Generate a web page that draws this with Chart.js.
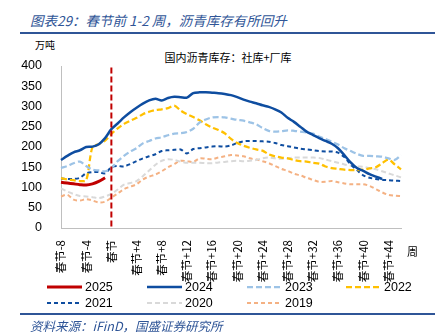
<!DOCTYPE html>
<html lang="zh-CN">
<head>
<meta charset="utf-8">
<script src="https://cdn.jsdelivr.net/npm/chart.js@4.4.1/dist/chart.umd.min.js"></script>
<style>
  html, body { margin: 0; padding: 0; background: #fff; }
  body { width: 443px; height: 336px; position: relative; overflow: hidden;
         font-family: "Liberation Sans", "Noto Sans CJK SC", sans-serif; color: #000; }
  .abs { position: absolute; white-space: nowrap; }
  #title { left: 30px; top: 10px; font: italic 13.5px "Noto Sans CJK SC"; color: #2F5597; }
  .rule { left: 20px; width: 415px; height: 2px; background: #2F5597; }
  #unit { left: 35px; top: 37px; font: 10px "Noto Sans CJK SC"; }
  #ctitle { left: 228px; top: 49px; transform: translateX(-50%); font: 11px "Noto Sans CJK SC"; }
  #wrap { left: 0; top: 40px; width: 443px; height: 244px; }
  #zhou { left: 407px; top: 243px; font: 11px "Noto Sans CJK SC"; }
  #legend { left: 0; top: 279px; width: 443px; height: 32px; }
  .item { position: absolute; display: flex; align-items: center; height: 16px; font-size: 12.5px; }
  .item span { margin-left: 3px; }
  #source { left: 30px; top: 316px; font: italic 12.5px "Noto Sans CJK SC"; color: #2F5597; }
</style>
</head>
<body>
<div class="abs" id="title">图表29：春节前 1-2 周，沥青库存有所回升</div>
<div class="abs rule" style="top:32px"></div>
<div class="abs" id="unit">万吨</div>
<div class="abs" id="ctitle">国内沥青库存：社库+厂库</div>
<div class="abs" id="wrap"><canvas id="stockChart"></canvas></div>
<div class="abs" id="zhou">周</div>
<div class="abs" id="legend"></div>
<div class="abs rule" style="top:313px"></div>
<div class="abs" id="source">资料来源：iFinD，国盛证券研究所</div>

<script>
// weeks relative to Spring Festival, -8 .. +46
const weeks = [];
for (let w = -8; w <= 46; w++) weeks.push(w);

const tickLabels = ['春节-8','春节-4','春节','春节+4','春节+8','春节+12','春节+16',
                    '春节+20','春节+24','春节+28','春节+32','春节+36','春节+40','春节+44'];

// 社库+厂库, 万吨 (null = no data yet)
const y2025 = [113,111,109,107,106,109,115,124];
const y2024 = [168,178,187,192,200,201,207,222,244,258,273,286,297,307,315,319,315,321,
               324,323,322,333,335,335,334,333,331,328,323,317,312,308,303,299,293,285,
               272,262,250,238,230,222,215,208,197,180,162,148,141,133,127,121];
const y2023 = [148,153,160,164,153,144,142,140,148,165,178,189,197,209,215,221,224,229,
               233,234,237,245,260,268,273,274,273,270,267,265,261,256,247,240,238,239,
               241,240,238,236,233,226,220,213,206,197,190,183,178,178,177,176,172,168,180];
const y2022 = [123,120,118,116,118,200,207,216,232,246,257,265,272,281,287,291,293,296,
               302,290,281,274,266,256,248,242,234,220,210,203,198,194,191,182,177,174,
               172,168,165,164,161,159,152,148,146,144,143,143,144,147,150,160,169,157,145];
const y2021 = [122,121,121,124,135,138,138,135,150,153,152,158,165,172,177,182,190,192,
               193,194,184,195,197,199,201,202,201,204,210,214,215,215,214,213,210,205,
               202,199,196,194,192,190,189,189,186,175,157,143,130,124,121,119,118,117,116];
const y2020 = [98,90,84,79,78,76,74,78,84,95,107,111,116,128,142,156,166,170,168,164,161,
               161,161,160,160,162,163,165,166,165,166,168,172,174,172,171,172,174,174,
               174,174,173,169,165,161,157,154,152,151,148,145,140,135,130,125];
const y2019 = [78,82,70,68,71,68,63,65,75,85,96,102,108,120,127,132,140,150,158,166,165,
               163,172,171,170,174,177,180,179,177,172,169,165,160,153,146,141,134,130,
               124,119,114,114,116,113,110,108,108,108,104,96,88,82,80,79];

const festivalIndex = weeks.indexOf(0);

const series = [
  { label: '2025', data: y2025, color: '#C00000', width: 3,    dash: [] },
  { label: '2024', data: y2024, color: '#0E4DA0', width: 2.5,  dash: [] },
  { label: '2023', data: y2023, color: '#9DC3E6', width: 2.25, dash: [6, 3] },
  { label: '2022', data: y2022, color: '#FFC000', width: 2.25, dash: [6, 3] },
  { label: '2021', data: y2021, color: '#0E4DA0', width: 2,    dash: [4, 3] },
  { label: '2020', data: y2020, color: '#D9D9D9', width: 2,    dash: [5, 3] },
  { label: '2019', data: y2019, color: '#F4B183', width: 2,    dash: [4, 3] }
];

// red dashed marker at the festival week
const festivalLine = {
  id: 'festivalLine',
  afterDatasetsDraw(chart) {
    const { ctx, scales: { x, y } } = chart;
    const px = x.getPixelForValue(festivalIndex);
    ctx.save();
    ctx.strokeStyle = '#C00000';
    ctx.lineWidth = 2;
    ctx.setLineDash([6, 3]);
    ctx.beginPath();
    ctx.moveTo(px, y.getPixelForValue(396));
    ctx.lineTo(px, y.getPixelForValue(0));
    ctx.stroke();
    ctx.restore();
  }
};

new Chart(document.getElementById('stockChart'), {
  type: 'line',
  data: {
    labels: weeks,
    datasets: series.map(s => ({
      label: s.label,
      data: s.data,
      borderColor: s.color,
      borderWidth: s.width,
      borderDash: s.dash,
      pointRadius: 0,
      tension: 0.3,
      fill: false
    }))
  },
  options: {
    responsive: true, maintainAspectRatio: false, animation: false,
    layout: { padding: { left: 0, right: 42, top: 26, bottom: 0 } },
    plugins: { legend: { display: false }, tooltip: { enabled: false } },
    scales: {
      y: {
        min: 0, max: 400,
        ticks: { stepSize: 50, padding: 11, color: '#000', font: { family: 'Liberation Sans', size: 12.5 } },
        grid: { display: false },
        border: { color: '#BFBFBF', width: 1 },
        afterFit: s => { s.width = 61; }
      },
      x: {
        ticks: {
          autoSkip: false, minRotation: 90, maxRotation: 90, padding: 4, color: '#000',
          font: { family: 'Noto Sans CJK SC', size: 11.5 },
          callback: (v, i) => (i % 4 === 0 ? tickLabels[i / 4] : '')
        },
        grid: { display: false },
        border: { color: '#BFBFBF', width: 1 },
        afterFit: s => { s.height = 56; }
      }
    }
  },
  plugins: [festivalLine]
});

// two-row legend, four columns
const legendX = [47, 147, 247, 346];
const legendY = [0, 16];
const legend = document.getElementById('legend');
series.forEach((s, i) => {
  const item = document.createElement('div');
  item.className = 'item';
  item.style.left = legendX[i % 4] + 'px';
  item.style.top = legendY[Math.floor(i / 4)] + 'px';
  const dash = s.dash.length ? s.dash.join(',') : 'none';
  item.innerHTML =
    '<svg width="35" height="4"><line x1="0" y1="2" x2="35" y2="2" stroke="' + s.color +
    '" stroke-width="' + s.width + '" stroke-dasharray="' + dash + '"/></svg><span>' + s.label + '</span>';
  legend.appendChild(item);
});
</script>
</body>
</html>
